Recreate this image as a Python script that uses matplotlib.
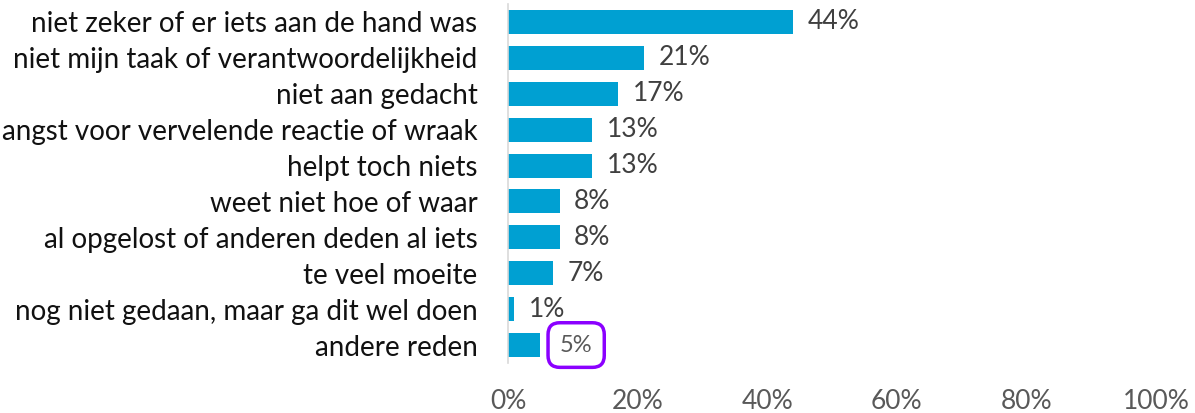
import matplotlib
matplotlib.use("Agg")
import matplotlib.pyplot as plt

# reasons, top to bottom as in the chart
reasons = [
    "niet zeker of er iets aan de hand was",
    "niet mijn taak of verantwoordelijkheid",
    "niet aan gedacht",
    "angst voor vervelende reactie of wraak",
    "helpt toch niets",
    "weet niet hoe of waar",
    "al opgelost of anderen deden al iets",
    "te veel moeite",
    "nog niet gedaan, maar ga dit wel doen",
    "andere reden",
]
shares = [44, 21, 17, 13, 13, 8, 8, 7, 1, 5]
xticks = [0, 20, 40, 60, 80, 100]

plt.rcParams['font.family'] = ['Lato', 'DejaVu Sans']

fig = plt.figure(figsize=(11.95, 4.13), dpi=100)
ax = fig.add_axes([508 / 1195, 50 / 413, 648 / 1195, 359 / 413])

ypos = list(range(len(reasons)))
ax.barh(ypos, shares, height=0.67, color="#00A0D2")
ax.set_ylim(len(reasons) - 0.5, -0.5)
ax.set_xlim(0, 100)

ax.set_yticks(ypos)
ax.set_yticklabels(reasons, fontsize=20, color="#111111")
ax.set_xticks(xticks)
ax.set_xticklabels([f"{t}%" for t in xticks], fontsize=19, color="#595959")
ax.tick_params(axis="y", length=0, pad=22)
ax.tick_params(axis="x", length=0, pad=19)

for s in ["top", "right", "bottom"]:
    ax.spines[s].set_visible(False)
ax.spines["left"].set_color("#D9D9D9")
ax.spines["left"].set_linewidth(1.2)

for i, v in enumerate(shares):
    if reasons[i] == "andere reden":
        ax.text(v + 3.0, i, f"{v}%", va="center", ha="left", fontsize=17, color="#595959",
                bbox=dict(boxstyle="round,pad=0.5,rounding_size=0.5", fc="white",
                          ec="#8B00FF", lw=2.5))
    else:
        ax.text(v + 2.2, i, f"{v}%", va="center", ha="left", fontsize=19, color="#404040")

fig.savefig("out.png", dpi=100)
